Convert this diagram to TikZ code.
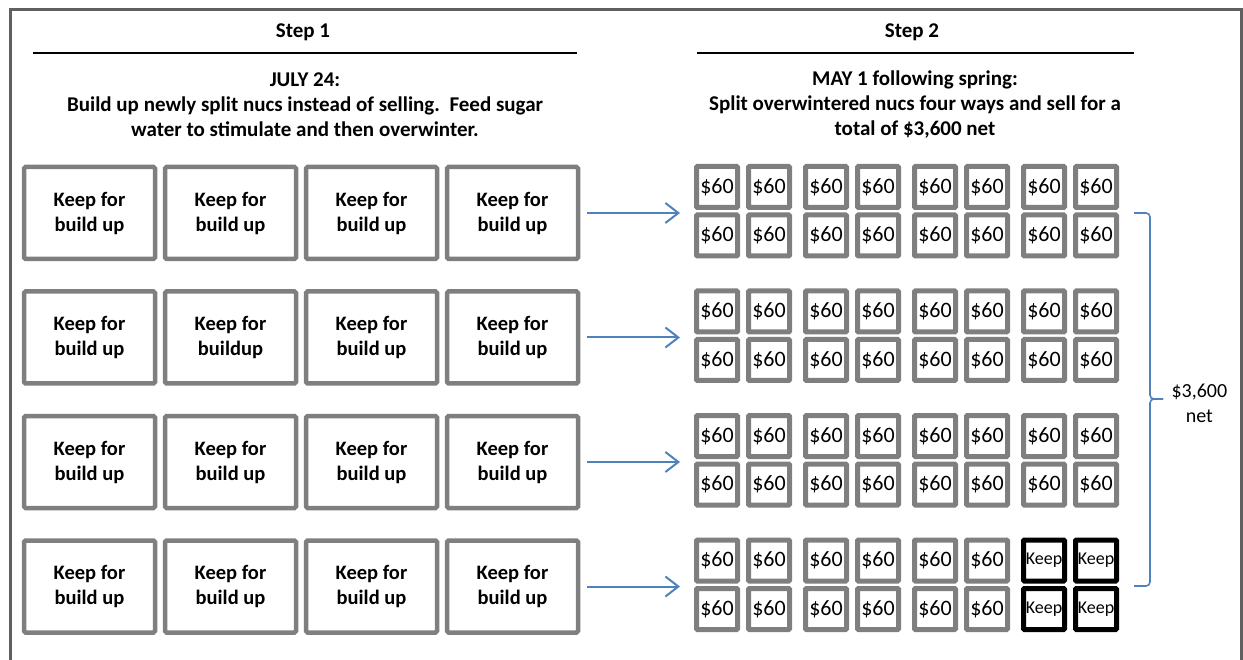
\documentclass[tikz,border=0pt]{standalone}
\usepackage{fontspec}
\setmainfont{Carlito}
\usetikzlibrary{positioning,arrows.meta,calc}
\definecolor{boxgray}{RGB}{127,127,127}
\definecolor{framegray}{RGB}{96,96,96}
\definecolor{flowblue}{RGB}{79,129,189}

\begin{document}
\begin{tikzpicture}[x=1pt,y=-1pt,font=\fontsize{20}{25}\selectfont,
		nucbox/.style={draw=boxgray,line width=4.5pt,rounded corners=1.5pt,inner sep=0pt,
			minimum width=131pt,minimum height=92pt,align=center,font=\bfseries\fontsize{20.5}{25}\selectfont},
		salebox/.style={draw=boxgray,line width=5pt,rounded corners=1pt,inner sep=0pt,
			minimum size=41pt,font=\fontsize{22}{26}\selectfont},
		keepbox/.style={salebox,draw=black,font=\fontsize{18}{20}\selectfont},
		heading/.style={font=\bfseries\fontsize{21}{25}\selectfont,align=center},
		flow/.style={draw=flowblue,line width=2pt,-{Straight Barb[length=13pt,width=20pt,line width=2pt]}},
		bracket/.style={draw=flowblue,line width=1.6pt,rounded corners=4pt}]
		\useasboundingbox (0,0) rectangle (1243,660);
		\draw[framegray,line width=3pt] (10,660) -- (10,9.5) -- (1241.5,9.5) -- (1241.5,660);
		\node[heading] (step-1) at (303,32) {Step 1};
		\node[heading] (step-2) at (912,32) {Step 2};
		\draw[line width=1.5pt] (33,53) -- (577,53);
		\draw[line width=1.5pt] (697,53) -- (1134,53);
		\node[heading] (when-1) at (305,105) {JULY 24:\\Build up newly split nucs instead of selling.\ \ Feed sugar\\water to stimulate and then overwinter.};
		\node[heading] (when-2) at (915,105) {MAY 1 following spring:\\Split overwintered nucs four ways and sell for a\\total of \$3,600 net};
		\foreach \g in {1,...,4}
		\foreach \c in {1,...,4}{
			\ifnum\g\c=22 \def\Txt{Keep for\\buildup}\else\def\Txt{Keep for\\build up}\fi
			\node[nucbox] (N-\g-\c) at ({89.5+141*(\c-1)},{213+124.5*(\g-1)}) {\Txt};
		}
		\foreach \g in {1,...,4}
		\foreach \p in {1,...,4}
		\foreach \m in {1,2}
		\foreach \r in {1,2}{
			\pgfmathtruncatemacro\c{2*(\p-1)+\m}
			\ifnum\g\p=44 \def\Sty{keepbox}\def\Txt{Keep}\else\def\Sty{salebox}\def\Txt{\$60}\fi
			\node[\Sty] (S-\g-\c-\r) at ({717+109*(\p-1)+52*(\m-1)},{187+124.5*(\g-1)+48.5*(\r-1)}) {\Txt};
		}
		\foreach \g in {1,...,4}
		\draw[flow,shorten <=7pt,shorten >=14pt] (N-\g-4.east) -- (N-\g-4.east -| S-\g-1-1.west);
		\coordinate (brace-top) at (1134,213);
		\coordinate (brace-bot) at (1134,586);
		\coordinate (brace-tip) at (1163,399);
		\draw[bracket] (brace-top) -| ([xshift=-13pt]brace-tip) -- (brace-tip);
		\draw[bracket] (brace-bot) -| ([xshift=-13pt]brace-tip) -- (brace-tip);
		\node[right=5pt of brace-tip,yshift=-4pt,align=center] (total) {\$3,600\\net};
\end{tikzpicture}
\end{document}
